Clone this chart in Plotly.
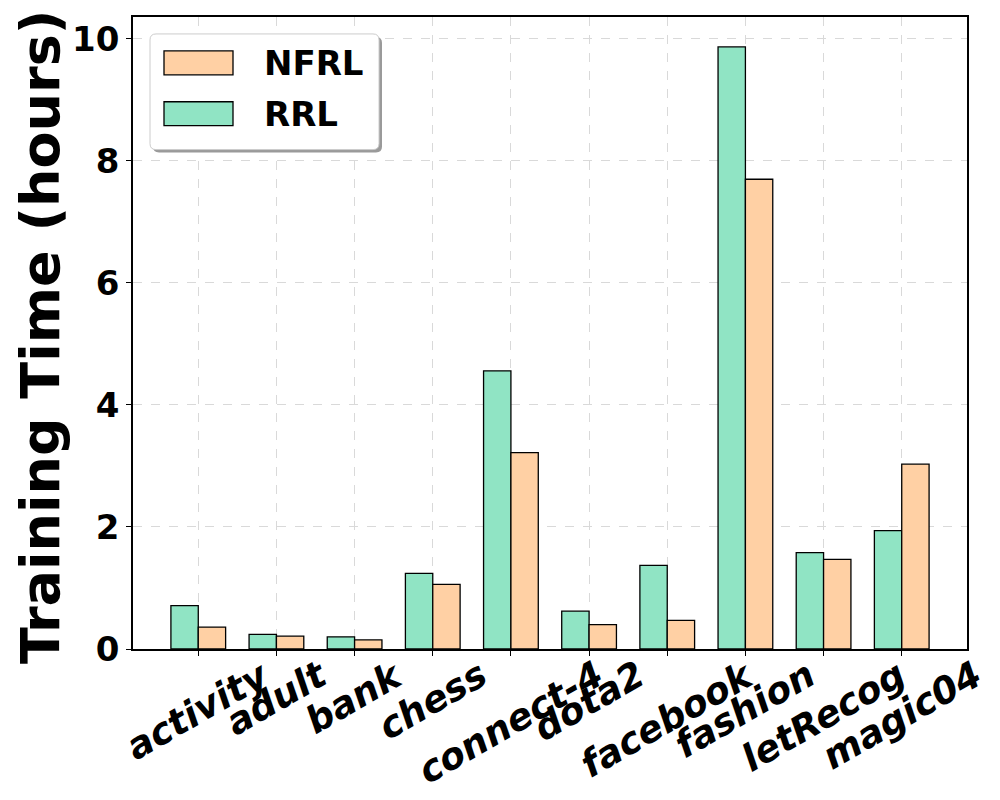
import plotly.graph_objects as go

categories = ['activity', 'adult', 'bank', 'chess', 'connect-4', 'dota2',
              'facebook', 'fashion', 'letRecog', 'magic04']
rrl_hours = [0.71, 0.24, 0.20, 1.24, 4.56, 0.62, 1.37, 9.87, 1.58, 1.94]
nfrl_hours = [0.36, 0.21, 0.15, 1.06, 3.22, 0.40, 0.47, 7.70, 1.47, 3.03]

RRL_COLOR = '#90E4C4'
NFRL_COLOR = '#FFD0A4'
FONT = 'DejaVu Sans'

# the page body adds an 8px margin, so the figure is a bit smaller
OFF = 8
W, H = 1000 - OFF, 800 - OFF
# plot area in page pixels
L, R, T, B = 133, 967, 15, 649


def px(x):
    return (x - L) / (R - L)


def py(y):
    return (B - y) / (B - T)


def rounded_box(x0, y0, x1, y1, r):
    # rounded rectangle as an svg path in paper coordinates
    rx = r / (R - L)
    ry = r / (B - T)
    a, b, c, d = px(x0), py(y0), px(x1), py(y1)
    return (f'M{a + rx},{b} L{c - rx},{b} Q{c},{b} {c},{b - ry} '
            f'L{c},{d + ry} Q{c},{d} {c - rx},{d} L{a + rx},{d} '
            f'Q{a},{d} {a},{d + ry} L{a},{b - ry} Q{a},{b} {a + rx},{b} Z')


fig = go.Figure()
fig.add_trace(go.Bar(x=categories, y=rrl_hours, name='RRL',
                     marker=dict(color=RRL_COLOR, line=dict(color='black', width=1.3))))
fig.add_trace(go.Bar(x=categories, y=nfrl_hours, name='NFRL',
                     marker=dict(color=NFRL_COLOR, line=dict(color='black', width=1.3))))

fig.update_layout(
    width=W, height=H,
    margin=dict(l=L - OFF, r=W - (R - OFF), t=T - OFF, b=H - (B - OFF)),
    plot_bgcolor='white', paper_bgcolor='white',
    barmode='group', bargap=0.3, bargroupgap=0,
    showlegend=False,
    font=dict(family=FONT, size=34, color='black', weight='bold'),
)
fig.update_xaxes(
    range=[-0.835, len(categories) - 1 + 0.835],
    showticklabels=False, ticks='outside', ticklen=5, tickcolor='black',
    showline=True, linecolor='black', linewidth=1.5, mirror=True,
    showgrid=True, gridcolor='#d9d9d9', griddash='dash', gridwidth=1,
)
fig.update_yaxes(
    range=[0, 10.36], dtick=2, ticks='outside', ticklen=5, tickcolor='black',
    tickfont=dict(family=FONT, size=34, color='black', weight='bold'),
    showline=True, linecolor='black', linewidth=1.5, mirror=True,
    showgrid=True, gridcolor='#d9d9d9', griddash='dash', gridwidth=1,
    zeroline=False,
)

# rotated category labels, centred under their ticks
for cat in categories:
    fig.add_annotation(x=cat, y=py(650), xref='x', yref='paper', text=cat,
                       textangle=-30, xanchor='center', yanchor='top', showarrow=False,
                       font=dict(family=FONT, size=37, color='black',
                                 weight='bold', style='italic'))

# y axis title
fig.add_annotation(x=px(41), y=py(336), xref='paper', yref='paper',
                   text='Training Time (hours)', textangle=-90, showarrow=False,
                   xanchor='center', yanchor='middle',
                   font=dict(family=FONT, size=54, color='black', weight='bold'))

# legend drawn by hand: shadow, box, swatches, labels
fig.add_shape(type='path', xref='paper', yref='paper', layer='above',
              path=rounded_box(153, 35, 382, 151, 6),
              fillcolor='#9a9a9a', line=dict(width=0))
fig.add_shape(type='path', xref='paper', yref='paper', layer='above',
              path=rounded_box(150, 32, 379, 148, 6),
              fillcolor='white', line=dict(color='#cccccc', width=1))
legend_items = [('NFRL', NFRL_COLOR, 61), ('RRL', RRL_COLOR, 112)]
for label, color, yc in legend_items:
    fig.add_shape(type='rect', xref='paper', yref='paper', layer='above',
                  x0=px(164), x1=px(233), y0=py(yc + 12), y1=py(yc - 12),
                  fillcolor=color, line=dict(color='black', width=1.3))
    fig.add_annotation(x=px(262), y=py(yc), xref='paper', yref='paper', text=label,
                       showarrow=False, xanchor='left', yanchor='middle',
                       font=dict(family=FONT, size=34, color='black', weight='bold'))

fig.write_html('out.html')
